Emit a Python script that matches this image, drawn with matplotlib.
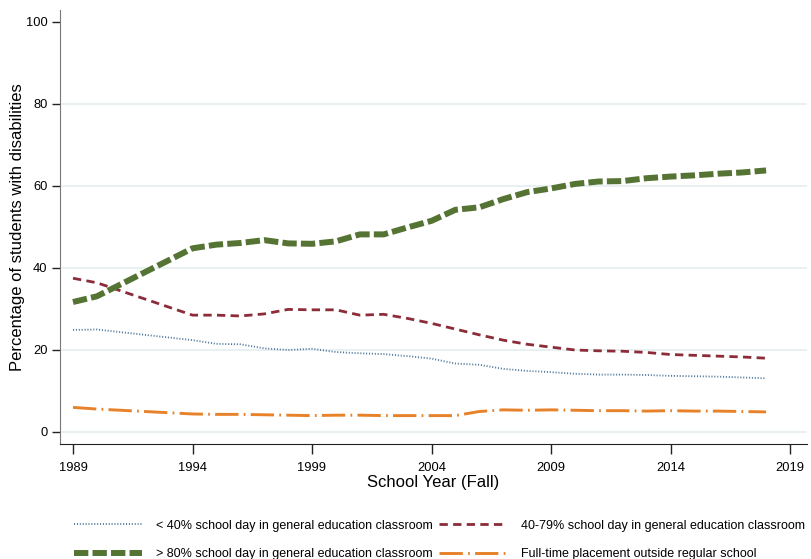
import matplotlib
matplotlib.use('Agg')
import matplotlib.pyplot as plt

plt.rcParams['font.family'] = ['Liberation Sans', 'DejaVu Sans']

# Fall school years (no observations for 1991-1993)
years = [1989, 1990, 1994, 1995, 1996, 1997, 1998, 1999, 2000, 2001, 2002, 2003,
         2004, 2005, 2006, 2007, 2008, 2009, 2010, 2011, 2012, 2013, 2014, 2015,
         2016, 2017, 2018]

# Percent of students with disabilities by time spent in general classes
under_40 = [24.9, 25.0, 22.4, 21.5, 21.4, 20.4, 20.0, 20.3, 19.5, 19.2, 19.0, 18.5,
            17.9, 16.7, 16.4, 15.4, 14.9, 14.6, 14.2, 14.0, 14.0, 13.9, 13.7, 13.6,
            13.5, 13.3, 13.1]
from_40_79 = [37.5, 36.4, 28.5, 28.5, 28.3, 28.8, 29.9, 29.8, 29.8, 28.5, 28.7, 27.7,
              26.5, 25.1, 23.7, 22.4, 21.4, 20.7, 20.0, 19.8, 19.7, 19.4, 18.9, 18.7,
              18.5, 18.3, 18.0]
over_80 = [31.7, 33.1, 44.8, 45.7, 46.1, 46.8, 46.0, 45.9, 46.5, 48.2, 48.2, 49.9,
           51.5, 54.2, 54.8, 56.8, 58.5, 59.4, 60.5, 61.1, 61.2, 61.9, 62.3, 62.6,
           63.0, 63.3, 63.8]
outside_regular = [6.0, 5.6, 4.4, 4.3, 4.3, 4.2, 4.1, 4.0, 4.1, 4.1, 4.0, 4.0,
                   4.0, 4.0, 5.0, 5.4, 5.3, 5.4, 5.3, 5.2, 5.2, 5.1, 5.2, 5.1,
                   5.1, 5.0, 4.9]

series_labels = [
    '< 40% school day in general education classroom',
    '40-79% school day in general education classroom',
    '> 80% school day in general education classroom',
    'Full-time placement outside regular school',
]

x_ticks = [1989, 1994, 1999, 2004, 2009, 2014, 2019]
y_ticks = [0, 20, 40, 60, 80, 100]

W, H = 812, 559
fig = plt.figure(figsize=(W / 100, H / 100), dpi=100)
ax = fig.add_axes([60 / W, 1 - 444 / H, (807 - 60) / W, (444 - 10) / H])

for g in [0, 20, 40, 60, 80]:
    ax.axhline(g, color='#e6eff1', lw=1.3, zorder=0)

l1, = ax.plot(years, under_40, color='#4f789c', lw=1.3,
              linestyle=(0, (0.6, 1.0)), label=series_labels[0])
l2, = ax.plot(years, from_40_79, color='#8b2c38', lw=2.0,
              linestyle=(0, (3.0, 1.9)), label=series_labels[1])
l3, = ax.plot(years, over_80, color='#557433', lw=4.3,
              linestyle=(0, (2.4, 0.7)), label=series_labels[2])
l4, = ax.plot(years, outside_regular, color='#e8822a', lw=2.1,
              linestyle=(0, (8, 1.8, 0.6, 1.8)), label=series_labels[3])

ax.set_xlim(1989 - 13 / 23.9, 2019 + 17 / 23.9)
ax.set_ylim(-12 / 4.1, 100 + 12 / 4.1)
ax.set_xticks(x_ticks)
ax.set_yticks(y_ticks)
ax.tick_params(axis='y', length=6, width=1, labelsize=9.3, pad=3, color='#222222')
ax.tick_params(axis='x', length=7, width=1, labelsize=9.3, pad=6, color='#222222')

for side in ['top', 'right']:
    ax.spines[side].set_visible(False)
ax.spines['left'].set_color('#777777')
ax.spines['bottom'].set_color('#222222')

ax.set_xlabel('School Year (Fall)', fontsize=12, labelpad=1)
ax.set_ylabel('Percentage of students with disabilities', fontsize=12, labelpad=0.5)

# two-row legend: matplotlib fills column-wise, so order accordingly
fig.legend([l1, l3, l2, l4],
           [series_labels[0], series_labels[2], series_labels[1], series_labels[3]],
           ncol=2, frameon=False, fontsize=9.0,
           loc='lower left', bbox_to_anchor=(74 / W, 1 - 560 / H),
           handlelength=5.4, handletextpad=1.2, columnspacing=0.45,
           labelspacing=1.3, borderpad=0, borderaxespad=0)

fig.savefig('out.png', dpi=100, facecolor='white')
